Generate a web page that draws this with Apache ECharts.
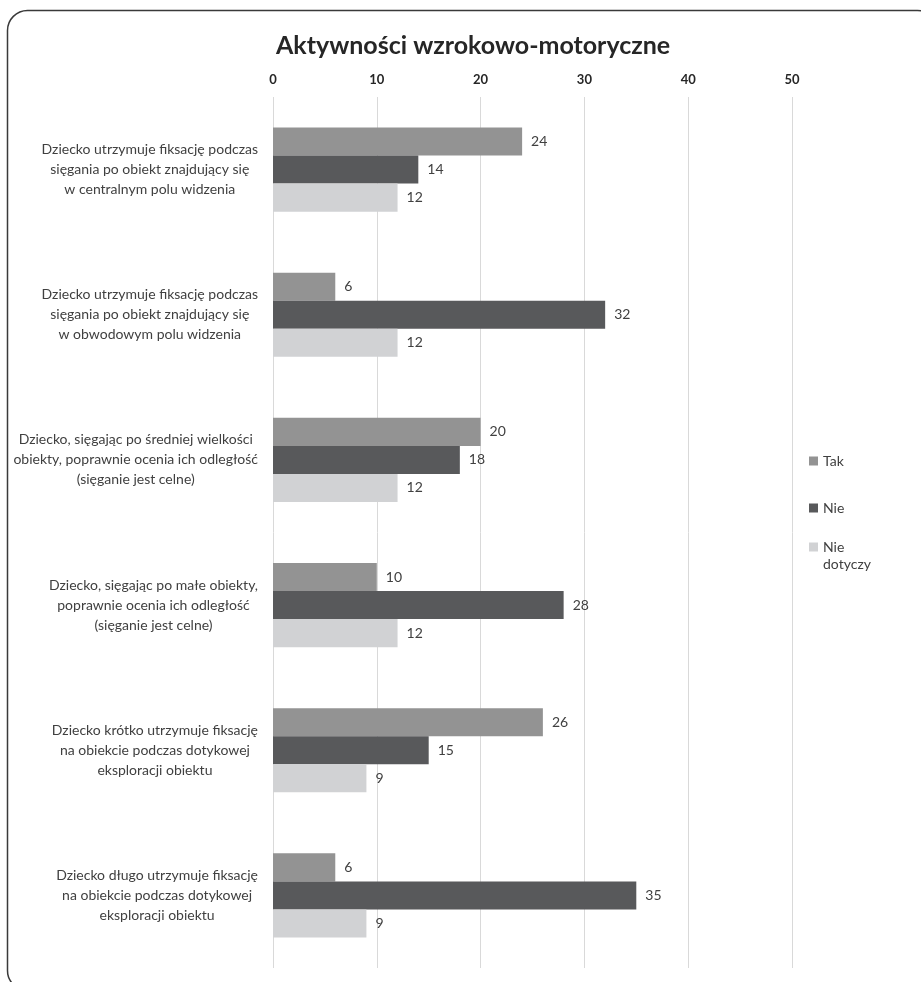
<!DOCTYPE html>
<html>
<head>
<meta charset="utf-8">
<script src="https://cdn.jsdelivr.net/npm/echarts@6/dist/echarts.min.js"></script>
<style>html,body{margin:0;padding:0;background:#fff}#c{width:921px;height:982px}</style>
</head>
<body>
<div id="c"></div>
<script>
const titleText = 'Aktywności wzrokowo-motoryczne';
const categories = [
  'Dziecko utrzymuje fiksację podczas\nsięgania po obiekt znajdujący się\nw centralnym polu widzenia',
  'Dziecko utrzymuje fiksację podczas\nsięgania po obiekt znajdujący się\nw obwodowym polu widzenia',
  'Dziecko, sięgając po średniej wielkości\nobiekty, poprawnie ocenia ich odległość\n(sięganie jest celne)',
  'Dziecko, sięgając po małe obiekty,\npoprawnie ocenia ich odległość\n(sięganie jest celne)',
  'Dziecko krótko utrzymuje fiksację\nna obiekcie podczas dotykowej\neksploracji obiektu',
  'Dziecko długo utrzymuje fiksację\nna obiekcie podczas dotykowej\neksploracji obiektu'
];
const seriesNames = ['Tak', 'Nie', 'Nie dotyczy'];
const legendLabels = ['Tak', 'Nie', '\nNie\ndotyczy'];
const tak = [24, 6, 20, 10, 26, 6];
const nie = [14, 32, 18, 28, 15, 35];
const nieDotyczy = [12, 12, 12, 12, 9, 9];
const colors = ['#939393', '#58595b', '#d1d2d4'];

const FONT = 'Lato';
const chart = echarts.init(document.getElementById('c'));
const values = [tak, nie, nieDotyczy];
const legendTop = [452.5, 499.5, 521.5];

chart.setOption({
  animation: false,
  textStyle: { fontFamily: FONT },
  title: {
    text: titleText, left: 271, top: 28,
    textStyle: { fontFamily: FONT, fontSize: 25, fontWeight: 'bold', color: '#262626' }
  },
  graphic: [{
    type: 'rect', silent: true,
    shape: { x: 7.5, y: 10.5, width: 930, height: 980, r: 20 },
    style: { fill: 'none', stroke: '#3a3a3a', lineWidth: 1.5 }
  }],
  legend: seriesNames.map((n, i) => ({
    data: [n], orient: 'vertical', left: 809, top: legendTop[i], padding: 0,
    itemWidth: 9, itemHeight: 9, icon: 'rect', itemGap: 10,
    formatter: () => legendLabels[i],
    textStyle: { fontFamily: FONT, fontSize: 14, color: '#404040', lineHeight: 17 }
  })),
  grid: { left: 273, right: 129, top: 97, bottom: 14, containLabel: false },
  xAxis: {
    type: 'value', position: 'top', min: 0, max: 50, interval: 10,
    axisLine: { show: false }, axisTick: { show: false },
    axisLabel: { margin: 11, fontFamily: FONT, fontSize: 13, fontWeight: 'bold', color: '#262626' },
    splitLine: { lineStyle: { color: '#d9d9d9', width: 1 } }
  },
  yAxis: {
    type: 'category', data: categories, inverse: true,
    axisLine: { show: false }, axisTick: { show: false },
    axisLabel: {
      margin: 15, align: 'right',
      formatter: v => v.split('\n').map(l => '{c|' + l + '}').join('\n'),
      rich: { c: { align: 'center', fontFamily: FONT, fontSize: 14, lineHeight: 20, color: '#404040' } }
    }
  },
  series: seriesNames.map((n, i) => ({
    name: n, type: 'bar', data: values[i],
    barGap: '0%', barCategoryGap: '42%',
    itemStyle: { color: colors[i] },
    label: { show: true, position: 'right', distance: 9, fontFamily: FONT, fontSize: 14, color: '#404040' }
  }))
});
</script>
</body>
</html>
